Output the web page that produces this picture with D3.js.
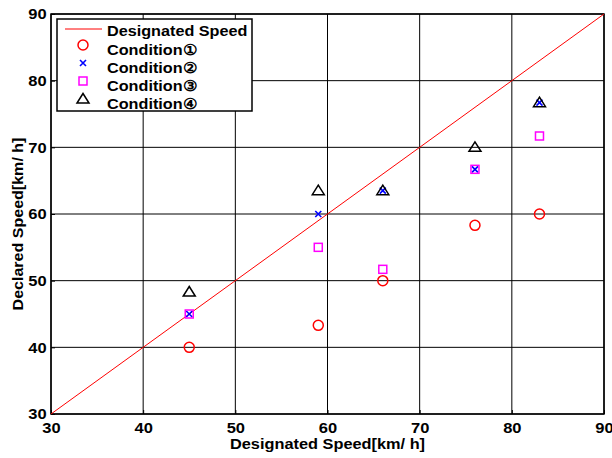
<!DOCTYPE html>
<html>
<head>
<meta charset="utf-8">
<script src="https://cdn.jsdelivr.net/npm/d3@7"></script>
<style>
  body { margin: 0; background: #fff; }
  svg { font-family: "Liberation Sans", Arial, sans-serif; font-weight: bold; }
</style>
</head>
<body>
<svg width="612" height="458"></svg>
<script>
// data
var speeds = [45, 59, 66, 76, 83];
var cond1 = [40, 43.3, 50, 58.3, 60];
var cond2 = [45, 60, 63.5, 66.7, 76.7];
var cond3 = [45, 55, 51.7, 66.7, 71.7];
var cond4 = [48.3, 63.5, 63.5, 70, 76.7];
var ticks = [30, 40, 50, 60, 70, 80, 90];
var legendLabels = ["Designated Speed", "Condition\u2460", "Condition\u2461", "Condition\u2462", "Condition\u2463"];

var svg = d3.select("svg");
var margins = { top: 14, bottom: 44, left: 51, right: 8 };
var chartWidth = 612 - margins.left - margins.right;
var chartHeight = 458 - margins.top - margins.bottom;
var stretch = 1.1; // the exported fonts look a bit wide

var xScale = d3.scaleLinear().domain([30, 90]).range([0, chartWidth]);
var yScale = d3.scaleLinear().domain([30, 90]).range([chartHeight, 0]);

var g = svg.append("g")
  .attr("transform", `translate(${margins.left}, ${margins.top})`);

// grid
g.append("g")
  .selectAll("line")
  .data(ticks)
  .enter().append("line")
  .attr("x1", d => xScale(d)).attr("x2", d => xScale(d))
  .attr("y1", 0).attr("y2", chartHeight)
  .attr("stroke", "#000").attr("stroke-width", 1);
g.append("g")
  .selectAll("line")
  .data(ticks)
  .enter().append("line")
  .attr("y1", d => yScale(d)).attr("y2", d => yScale(d))
  .attr("x1", 0).attr("x2", chartWidth)
  .attr("stroke", "#000").attr("stroke-width", 1);

// axes
var xAxis = g.append("g")
  .attr("transform", `translate(0, ${chartHeight})`)
  .call(d3.axisBottom(xScale).tickValues(ticks).tickSize(-4).tickPadding(8));
var yAxis = g.append("g")
  .call(d3.axisLeft(yScale).tickValues(ticks).tickSize(-4).tickPadding(4));
[xAxis, yAxis].forEach(function (a) {
  a.select(".domain").remove();
  a.selectAll("line").attr("stroke", "#000");
  a.selectAll("text").attr("font-size", 15).attr("font-weight", "bold")
    .attr("font-family", "Liberation Sans, Arial, sans-serif").attr("fill", "#000")
    .attr("transform", `scale(${stretch},1)`);
});

// frame
g.append("rect")
  .attr("width", chartWidth).attr("height", chartHeight)
  .attr("fill", "none").attr("stroke", "#000").attr("stroke-width", 1.5);

// designated speed line
g.append("line")
  .attr("x1", xScale(30)).attr("y1", yScale(30))
  .attr("x2", xScale(90)).attr("y2", yScale(90))
  .attr("stroke", "#ff0000").attr("stroke-width", 1);

function drawMarker(sel, type) {
  if (type === 1) {
    sel.append("circle").attr("r", 5).attr("fill", "none").attr("stroke", "#ff0000").attr("stroke-width", 1.5);
  } else if (type === 2) {
    sel.append("path").attr("d", "M-3,-3L3,3M-3,3L3,-3").attr("stroke", "#0000ff").attr("stroke-width", 1.6);
  } else if (type === 3) {
    sel.append("rect").attr("x", -4).attr("y", -4).attr("width", 8).attr("height", 8)
      .attr("fill", "none").attr("stroke", "#ff00ff").attr("stroke-width", 1.5);
  } else {
    sel.append("path").attr("d", "M0,-5.5L6,4L-6,4Z")
      .attr("fill", "none").attr("stroke", "#000").attr("stroke-width", 1.5);
  }
}

[cond1, cond2, cond3, cond4].forEach(function (series, k) {
  g.append("g").selectAll("g")
    .data(series)
    .enter().append("g")
    .attr("transform", (d, i) => `translate(${xScale(speeds[i])}, ${yScale(d)})`)
    .each(function () { drawMarker(d3.select(this), k + 1); });
});

// legend
var legend = svg.append("g").attr("transform", "translate(57, 19)");
legend.append("rect").attr("width", 195).attr("height", 92)
  .attr("fill", "#fff").attr("stroke", "#000").attr("stroke-width", 1.5);
var rowY = [12, 31, 49, 67, 85];
legend.append("line").attr("x1", 8).attr("x2", 45).attr("y1", 10).attr("y2", 10)
  .attr("stroke", "#ff0000").attr("stroke-width", 1);
for (var k = 1; k <= 4; k++) {
  var m = legend.append("g").attr("transform", `translate(26, ${rowY[k] - 5})`);
  drawMarker(m, k);
}
legend.selectAll("text")
  .data(legendLabels)
  .enter().append("text")
  .attr("transform", (d, i) => `translate(50, ${rowY[i] + 5}) scale(1.08,1)`)
  .attr("font-size", 15).attr("fill", "#000")
  .text(d => d);

// axis titles
svg.append("text")
  .attr("transform", `translate(${margins.left + chartWidth / 2}, 449) scale(1.09,1)`)
  .attr("text-anchor", "middle").attr("font-size", 15)
  .text("Designated Speed[km/ h]");
svg.append("text")
  .attr("transform", "translate(23, 224) rotate(-90) scale(1.07,1)")
  .attr("text-anchor", "middle").attr("font-size", 15)
  .text("Declared Speed[km/ h]");
</script>
</body>
</html>
